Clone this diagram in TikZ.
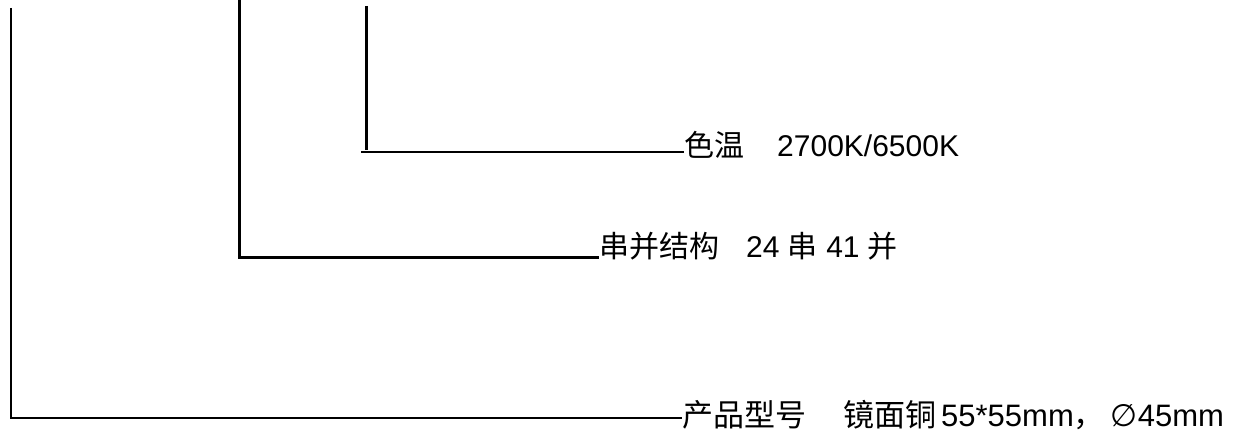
\documentclass[tikz,border=0pt]{standalone}
\usepackage{fontspec}
\setmainfont{Liberation Sans}
\newfontfamily\cjk{Noto Sans CJK SC}
\newfontfamily\symb{DejaVu Sans}

\begin{document}
\begin{tikzpicture}[x=1pt,y=-1pt]
\tikzstyle{every node}+=[inner sep=0pt, anchor=base west]
\tikzstyle{label big}=[font=\fontsize{31}{37}\selectfont]
\tikzstyle{label mid}=[font=\fontsize{30}{36}\selectfont]
\useasboundingbox (0,0) rectangle (1246,438);
% labels
\node [label mid] (temp) at (684,157) {{\cjk 色温}\hspace{33pt}2700K/6500K};
\node [label mid] (chain) at (599,258) {{\cjk 串并结构}\hspace{27pt}24 {\cjk 串} 41 {\cjk 并}};
\node [label big] (model) at (682,426) {{\cjk 产品型号}\hspace{37pt}{\cjk 镜面铜}\hspace{5pt}55*55mm{\cjk ，}\hspace{6pt}{\symb ∅}45mm};
% leader lines
\coordinate (top1) at (11,8);
\coordinate (top2) at (239.5,0);
\coordinate (top3) at (366.5,6);
\coordinate (foot3) at (366.5,150);
\coordinate (start3) at (361,152);
\draw [black, line width=2pt] (top1) |- (model.west |- 0,418);
\draw [black, line width=3pt] (top2) |- (chain.west |- 0,257);
\draw [black, line width=2.7pt] (top3) -- (foot3);
\draw [black, line width=1.5pt] (start3) -- (temp.west |- start3);
\end{tikzpicture}
\end{document}
